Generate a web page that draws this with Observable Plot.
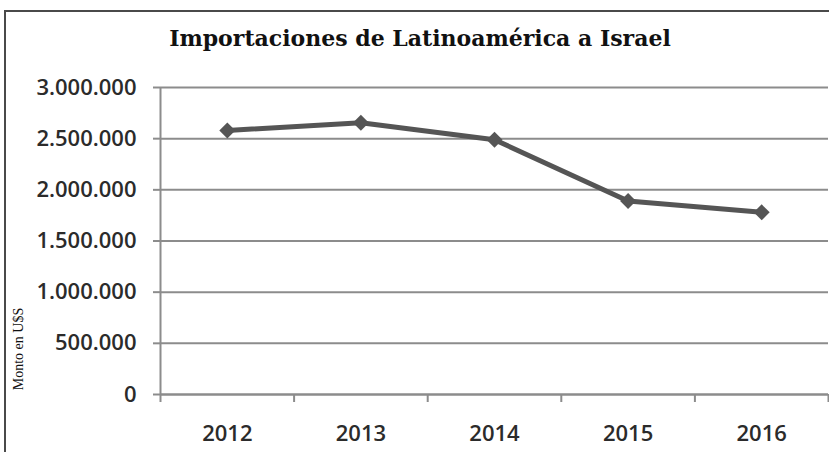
<!DOCTYPE html>
<html>
<head>
<meta charset="utf-8">
<script src="https://cdn.jsdelivr.net/npm/d3@7"></script>
<script src="https://cdn.jsdelivr.net/npm/@observablehq/plot@0.6"></script>
<style>
  html, body { margin: 0; padding: 0; background: #fff; }
  #wrap { position: relative; width: 829px; height: 452px; overflow: hidden; }
  #frame { position: absolute; left: 4px; top: 10px; width: 840px; height: 460px;
           border-top: 2px solid #4a4a4a; border-left: 2px solid #4a4a4a; z-index: 2; }
  #title { position: absolute; left: 0; top: 27px; width: 840px; text-align: center;
           font-family: "DejaVu Serif", serif; font-weight: bold; font-size: 22px; line-height: 1;
           color: #111; z-index: 3; }
  #ylabel { position: absolute; left: 19px; top: 349px; transform: translate(-50%, -50%) rotate(-90deg);
            white-space: nowrap; font-family: "Liberation Serif", serif; font-size: 14px; line-height: 1;
            color: #111; z-index: 3; }
  #chart { position: absolute; left: 0; top: 0; }
</style>
</head>
<body>
<div id="wrap">
  <div id="frame"></div>
  <div id="title"></div>
  <div id="ylabel"></div>
  <div id="chart"></div>
</div>
<script>
const title = "Importaciones de Latinoamérica a Israel";
const yLabel = "Monto en U$S";
const years = [2012, 2013, 2014, 2015, 2016];
const values = [2580000, 2655000, 2490000, 1890000, 1780000];
const yTicks = [0, 500000, 1000000, 1500000, 2000000, 2500000, 3000000];

document.getElementById("title").textContent = title;
document.getElementById("ylabel").textContent = yLabel;

const data = years.map((year, i) => ({year, value: values[i]}));
const boundaries = [years[0] - 0.5, ...years.map(y => y + 0.5)];
const fmt = d3.formatLocale({decimal: ",", thousands: ".", grouping: [3], currency: ["$", ""]}).format(",");

const chart = Plot.plot({
  width: 829,
  height: 452,
  marginLeft: 160,
  marginRight: 1,
  marginTop: 87,
  marginBottom: 58,
  style: {fontFamily: "Open Sans", fontSize: "22px", fontWeight: 600, color: "#2b2b2b", background: "transparent"},
  x: {domain: [boundaries[0], boundaries[boundaries.length - 1]], label: null},
  y: {domain: [0, 3000000], label: null},
  marks: [
    Plot.gridY(yTicks, {stroke: "#8c8c8c", strokeOpacity: 1, strokeWidth: 2}),
    Plot.ruleX([boundaries[0]], {y1: 0, y2: 3000000, stroke: "#8c8c8c", strokeWidth: 2}),
    Plot.ruleY([0], {stroke: "#8c8c8c", strokeWidth: 2}),
    Plot.axisY(yTicks, {tickSize: 7, tickPadding: 17, tickFormat: fmt, stroke: "#8c8c8c", strokeWidth: 2, fill: "#2b2b2b", label: null}),
    Plot.axisX(boundaries, {tickSize: 8, tickFormat: () => "", stroke: "#8c8c8c", strokeWidth: 2, label: null}),
    Plot.axisX(years, {tickSize: 0, tickPadding: 31, tickFormat: d => String(d), fill: "#2b2b2b", label: null}),
    Plot.line(data, {x: "year", y: "value", stroke: "#555555", strokeWidth: 5}),
    Plot.dot(data, {x: "year", y: "value", symbol: "diamond2", r: 7.2, fill: "#555555", stroke: "none"})
  ]
});
document.getElementById("chart").appendChild(chart);
</script>
</body>
</html>
